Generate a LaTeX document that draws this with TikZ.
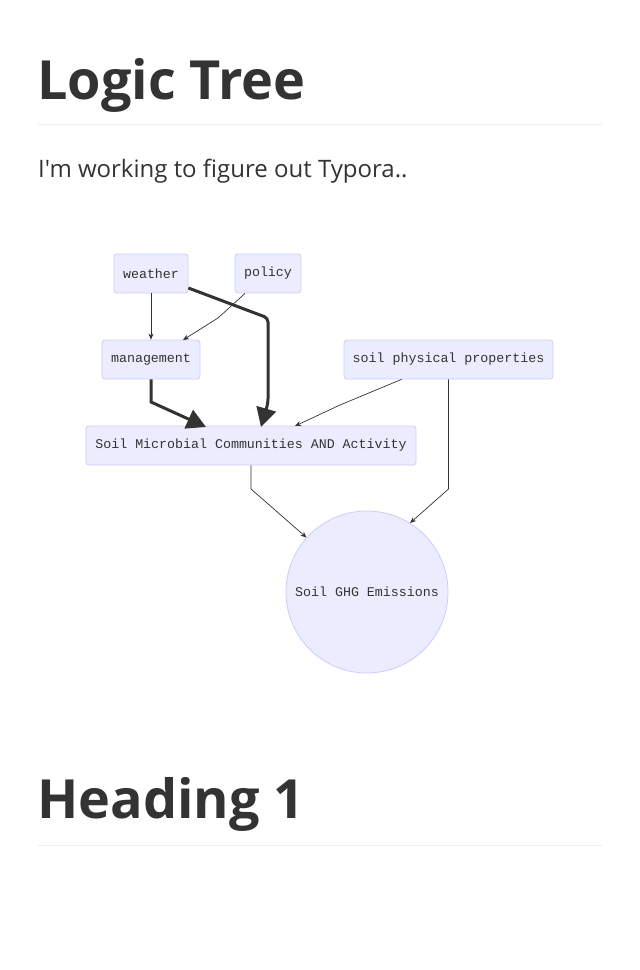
\documentclass[tikz,border=0pt]{standalone}
\usepackage{fontspec}
\setmainfont{Open Sans}[Ligatures=TeXOff]
\newfontfamily\monofont{Liberation Mono}
\usetikzlibrary{arrows.meta}
\definecolor{nodefill}{HTML}{ECECFF}
\definecolor{nodeline}{HTML}{CCCCFF}
\definecolor{txt}{HTML}{333333}
\definecolor{rule}{HTML}{EEEEEE}
\tikzset{
  box/.style={draw=nodeline, fill=nodefill, rounded corners=3pt, line width=0.8pt,
    font=\monofont\fontsize{13.3}{15}\selectfont, text=txt, inner sep=0pt},
  thin/.style={draw=txt, line width=0.7pt, -{Stealth[length=6pt,width=5pt]}},
  thick/.style={line width=3pt, -{Triangle[length=19pt,width=20pt]}, color=black!80},
}
\begin{document}
\begin{tikzpicture}[x=1pt,y=-1pt]
\useasboundingbox (0,0) rectangle (640,970);
\fill[white] (0,0) rectangle (640,970);
% headings
\node[anchor=base west, inner sep=0pt, text=txt, font=\bfseries\fontsize{54}{56}\selectfont] (h1) at (37,99) {Logic Tree};
\draw[rule, line width=1pt] (38,124.5) -- (602,124.5);
\node[anchor=base west, inner sep=0pt, text=txt, font=\fontsize{24}{28}\selectfont] (p) at (38,177) {I'm working to figure out Typora..};
\node[anchor=base west, inner sep=0pt, text=txt, font=\bfseries\fontsize{54}{56}\selectfont] (h2) at (37,818) {Heading 1};
\draw[rule, line width=1pt] (38,845.5) -- (602,845.5);
% nodes
\node[box, minimum width=74pt, minimum height=39pt] (weather) at (151,273.5) {weather};
\node[box, minimum width=66pt, minimum height=39pt] (policy) at (268,273.5) {policy};
\node[box, minimum width=98pt, minimum height=39pt] (mgmt) at (151,359.5) {management};
\node[box, minimum width=209pt, minimum height=39pt] (soil) at (448.5,359.5) {soil physical properties};
\node[box, minimum width=330pt, minimum height=39pt] (micro) at (251,445.5) {Soil Microbial Communities AND Activity};
\node[draw=nodeline, fill=nodefill, circle, minimum size=162pt, inner sep=0pt, line width=0.8pt,
  font=\monofont\fontsize{13.3}{15}\selectfont, text=txt] (ghg) at (367,592) {Soil GHG Emissions};
% edges
\coordinate (c1) at (218,318);
\draw[thin] (policy.south) ++(-23,0) -- (c1) -- (183,340);
\draw[thin] (weather.south) -- (mgmt.north);
\draw[thick, rounded corners=4pt] (weather.east) ++(0,14.5) -- (268,318) -- (268,403) -- (261,427);
\draw[thick] (mgmt.south) -- (151,402) -- (206,427);
\draw[thin] (soil.south) ++(-47,0) -- (340,405) -- (295,426);
\draw[thin] (soil.south) -- (448.5,489) -- (ghg.58);
\draw[thin] (micro.south) -- (251,489) -- (ghg.138);
\end{tikzpicture}
\end{document}
